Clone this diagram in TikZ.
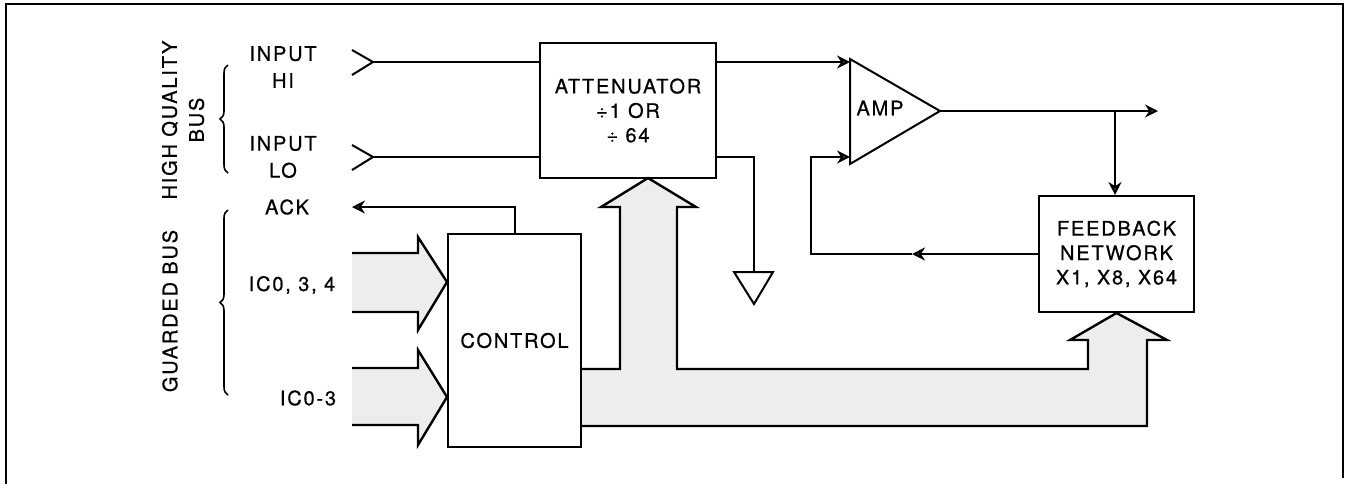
\documentclass[tikz,border=0pt]{standalone}
\usepackage{fontspec}
\setmainfont{TeX Gyre Heros}[LetterSpace=9,FakeBold=0.6]
\usetikzlibrary{arrows.meta,decorations.pathreplacing}
\begin{document}
\begin{tikzpicture}[x=0.5pt,y=-0.5pt, line width=1pt,
 lbl/.style={font=\fontsize{10}{13.5}\selectfont, align=center, inner sep=0pt},
 blk/.style={draw, rectangle, inner sep=0pt, align=center, font=\fontsize{10}{12.2}\selectfont},
 arr/.style={-{Stealth[length=6.5pt,width=6.5pt,fill=black!70]}},
 bus/.style={fill=black!7, draw=none},
 busline/.style={line width=1.2pt},
 brc/.style={decorate, decoration={brace, amplitude=4pt}, line width=0.8pt},
 ]
\useasboundingbox (0,0) rectangle (1352,484);
\draw (6,484) -- (6,4) -- (1343,4) -- (1343,478);

% buses (fill first)
\fill[bus] (352,253) -- (418,253) -- (418,237) -- (448,282) -- (418,330) -- (418,312) -- (352,312) -- cycle;
\fill[bus] (352,368) -- (418,368) -- (418,350) -- (448,397) -- (418,445) -- (418,425) -- (352,425) -- cycle;
\fill[bus] (581,369) -- (620,369) -- (620,207) -- (601,207) -- (648,178) -- (696,207) -- (677,207) -- (677,369)
  -- (1088,369) -- (1088,340) -- (1070,340) -- (1118,312) -- (1167,340) -- (1147,340) -- (1147,426) -- (581,426) -- cycle;

% blocks
\node[blk, minimum width=88pt, minimum height=67.5pt] (att) at (628,110.5) {ATTENUATOR\\÷1 OR\\÷ 64};
\node[blk, minimum width=66.5pt, minimum height=106.5pt] (ctrl) at (514.5,340.5) {CONTROL};
\node[blk, minimum width=77.5pt, minimum height=58pt] (fb) at (1116.5,254) {FEEDBACK\\NETWORK\\X1, X8, X64};

% amplifier
\draw (850,59) -- (940,111) -- (850,164) -- cycle;
\coordinate (ampi1) at (850,62);
\coordinate (ampi2) at (850,157);
\coordinate (ampo) at (940,111);
\node[lbl] (ampl) at (880,108) {AMP};

% bus outlines
\draw[busline] (352,253) -- (418,253) -- (418,237) -- (ctrl.west |- 0,282) -- (418,330) -- (418,312) -- (352,312);
\draw[busline] (352,368) -- (418,368) -- (418,350) -- (ctrl.west |- 0,397) -- (418,445) -- (418,425) -- (352,425);
\draw[busline] (ctrl.east |- 0,369) -- (620,369) -- (620,207) -- (601,207) -- (648,178) -- (696,207) -- (677,207) -- (677,369)
  -- (1088,369) -- (1088,340) -- (1070,340) -- (fb.south) -- (1167,340) -- (1147,340) -- (1147,426) -- (ctrl.east |- 0,426);

% labels
\node[lbl] (hi) at (283,67) {INPUT\\HI};
\node[lbl] (lo) at (283,157) {INPUT\\LO};
\node[lbl] (ackl) at (287,207) {ACK};
\node[lbl] (ic1) at (292,285) {IC0, 3, 4};
\node[lbl] (ic2) at (308,398) {IC0-3};
\node[lbl, rotate=90] (hqb) at (183,120) {HIGH QUALITY\\BUS};
\node[lbl, rotate=90] (gb) at (170,311) {GUARDED BUS};
\draw[brc] (228,173) -- (228,65);
\draw[brc] (228,395) -- (228,210);

% inputs
\coordinate (hiin) at (373,62);
\coordinate (loin) at (373,157);
\draw (352,50) -- (hiin) -- (352,75);
\draw (352,145) -- (loin) -- (352,170);
\draw (hiin) -- (hiin -| att.west);
\draw (loin) -- (loin -| att.west);

% attenuator outputs
\draw[arr] (ampi1 -| att.east) -- (ampi1);
\coordinate (gnd) at (754,272);
\draw (att.east |- loin) -- (754,157) -- (gnd);
\draw (734,272) -- (773,272) -- (754,304) -- cycle;

% amp output
\coordinate (out) at (1158,111);
\coordinate (br) at (1115,111);
\draw[arr] (ampo) -- (out);
\draw[arr] (br) -- (br |- fb.north);

% feedback
\coordinate (fbm) at (912,254);
\draw[arr] (fb.west) -- (fbm);
\draw[arr] (fbm) -- (811,254) -- (811,157) -- (ampi2);

% ACK
\coordinate (ackp) at (352,207);
\draw[arr] (ctrl.north) -- (ctrl.north |- ackp) -- (ackp);
\end{tikzpicture}
\end{document}
